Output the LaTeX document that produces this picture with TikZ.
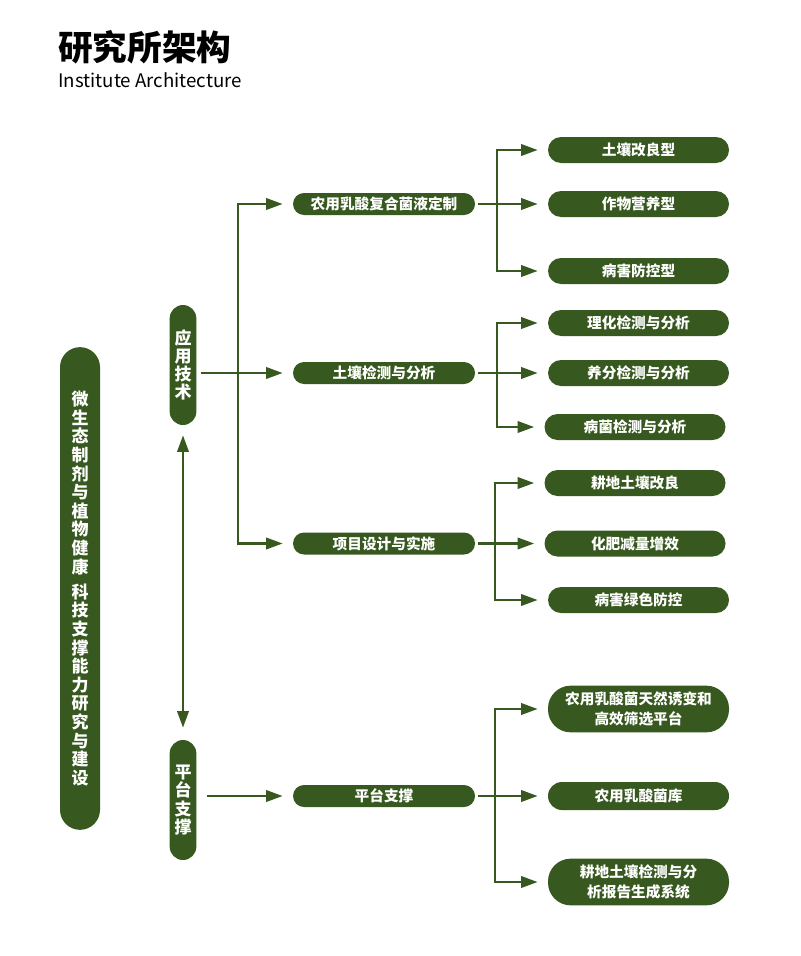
\documentclass[tikz,border=0pt]{standalone}
\usepackage{fontspec}
\newfontfamily\cjk{Noto Sans CJK SC}
\usetikzlibrary{arrows.meta}
\definecolor{leaf}{RGB}{55,88,30}
\tikzset{
  box/.style={rectangle, rounded corners=8.25pt, fill=leaf, text=white, inner sep=0pt,
    minimum width=136.5pt, minimum height=16.5pt, font=\cjk\bfseries\fontsize{11}{15}\selectfont},
  leafbox/.style={box, rounded corners=9.75pt, minimum width=135.75pt, minimum height=19.5pt},
  twobox/.style={box, align=center, rounded corners=17pt, minimum width=135.75pt, minimum height=35pt},
  tallbox/.style={box, align=center, rounded corners=10pt, minimum width=20pt, minimum height=90pt,
    font=\cjk\bfseries\fontsize{12.75}{13.7}\selectfont},
  tip/.tip={Triangle[length=12.5pt, width=8.5pt]},
  arr/.style={-tip, line width=2pt, draw=leaf, shorten >=7.5pt},
  fork/.style={tip-tip, line width=2pt, draw=leaf, shorten >=7.5pt, shorten <=7.5pt},
}
\begin{document}
\begin{tikzpicture}[x=0.75pt, y=-0.75pt]
    \useasboundingbox (0,0) rectangle (800,956);
    % titles
    \node[anchor=west, inner sep=0pt, font=\cjk\bfseries\fontsize{26}{30}\selectfont] (title) at (58,47) {研究所架构};
    \node[anchor=base west, inner sep=0pt, font=\cjk\fontsize{14}{16}\selectfont] (subtitle) at (58,88) {Institute Architecture};

    \node[tallbox, rounded corners=15pt, minimum width=30pt, minimum height=362pt,
      font=\cjk\bfseries\fontsize{12.75}{13.95}\selectfont] (core) at (80,588.5)
      {微\\生\\态\\制\\剂\\与\\植\\物\\健\\康\\[5pt]科\\技\\支\\撑\\能\\力\\研\\究\\与\\建\\设};
    \node[tallbox] (app) at (183,365) {应\\用\\技\\术};
    \node[tallbox] (plat) at (183,800) {平\\台\\支\\撑};

    \node[box] (bio) at (384,204) {农用乳酸复合菌液定制};
    \node[box] (soil) at (384,373) {土壤检测与分析};
    \node[box] (proj) at (384,543.5) {项目设计与实施};
    \node[box] (platb) at (384,796) {平台支撑};

    \node[leafbox] (b1) at (638.5,150) {土壤改良型};
    \node[leafbox] (b2) at (638.5,204) {作物营养型};
    \node[leafbox] (b3) at (638.5,271) {病害防控型};
    \node[leafbox] (s1) at (638.5,323) {理化检测与分析};
    \node[leafbox] (s2) at (638.5,373) {养分检测与分析};
    \node[leafbox] (s3) at (635,427) {病菌检测与分析};
    \node[leafbox] (p1) at (635,483) {耕地土壤改良};
    \node[leafbox] (p2) at (635,543.5) {化肥减量增效};
    \node[leafbox] (p3) at (638.5,600) {病害绿色防控};
    \node[twobox] (t1) at (638.5,709) {农用乳酸菌天然诱变和\\高效筛选平台};
    \node[leafbox, minimum height=21pt, rounded corners=10.5pt] (t2) at (638.5,796) {农用乳酸菌库};
    \node[twobox] (t3) at (638.5,882) {耕地土壤检测与分\\析报告生成系统};

    \coordinate (k0) at (238,0);
    \coordinate (k1) at (497,0);
    \coordinate (k2) at (495,0);

    \draw[tip-tip, line width=2pt, draw=leaf, shorten <=7.5pt, shorten >=9pt] (app.south) -- (plat.north);
    \draw[fork] (bio.west) -- (bio.west -| k0) -- (proj.west -| k0) -- (proj.west);
    \draw[arr, shorten <=3pt] (app.east |- soil.west) -- (soil.west);
    \draw[arr, shorten <=7.5pt] (plat.east |- platb.west) -- (platb.west);

    \draw[fork] (b1.west) -- (b1.west -| k1) -- (b3.west -| k1) -- (b3.west);
    \draw[arr, shorten <=2pt] (bio.east) -- (b2.west);
    \draw[fork] (s1.west) -- (s1.west -| k1) -- (s3.west -| k1) -- (s3.west);
    \draw[arr, shorten <=2pt] (soil.east) -- (s2.west);
    \draw[fork] (p1.west) -- (p1.west -| k2) -- (p3.west -| k2) -- (p3.west);
    \draw[arr, shorten <=2pt] (proj.east) -- (p2.west);
    \draw[fork] (t1.west) -- (t1.west -| k2) -- (t3.west -| k2) -- (t3.west);
    \draw[arr, shorten <=2pt] (platb.east) -- (t2.west);
\end{tikzpicture}
\end{document}
